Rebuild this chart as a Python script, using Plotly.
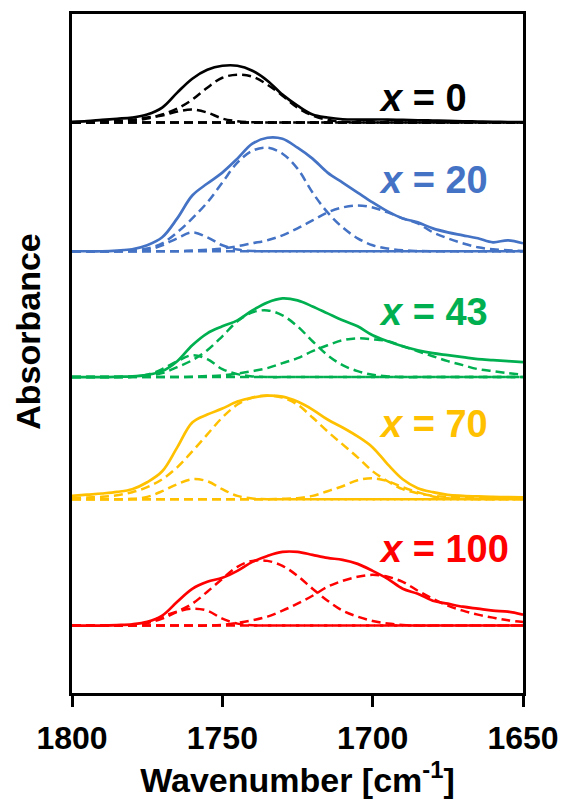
import plotly.graph_objects as go

# Wavenumber grid (cm-1)
wavenumber = [1800, 1795, 1790, 1785, 1780, 1775, 1770, 1765, 1760, 1755, 1750,
              1745, 1740, 1735, 1730, 1725, 1720, 1715, 1710, 1705, 1700,
              1695, 1690, 1685, 1680, 1675, 1670, 1665, 1660, 1655, 1650]

samples = ["0", "20", "43", "70", "100"]
colors = ["#000000", "#4472C4", "#00B050", "#FFC000", "#FF0000"]
offsets = [573, 443.7, 317.3, 194.7, 67.7]

# measured spectra (arb. units)
meas_0 = [0.7, 1.5, 2.7, 3.8, 5, 8, 15, 30, 44, 53, 57, 57, 52, 42, 28, 17, 8, 5, 3.3, 3, 3,
          3, 2.7, 2.3, 2, 1.7, 1.3, 1, 0.7, 0.5, 0.3]
meas_20 = [0, 0, 0, 0.7, 2, 6, 14, 33, 56, 68, 79, 93, 108, 114, 113, 104, 93, 79, 69, 59, 49,
           40, 33, 29, 23, 19, 16, 13, 9, 11, 8]
meas_43 = [0, 0, 0, 0.3, 0.7, 2.3, 6, 16, 32, 44, 51, 57, 67, 75, 79, 77, 71, 64, 57, 51, 42,
           36, 31, 27, 24, 22, 20, 18, 17, 16, 15]
meas_70 = [3.3, 4.5, 5.7, 7.3, 10, 17, 28, 52, 77, 85, 91, 98, 102, 104, 103, 98, 90, 80, 72, 63, 52,
           35, 20, 11, 7, 4.3, 3.3, 2.7, 2.3, 2, 1.7]
meas_100 = [0, 0, 0, 0.5, 1.3, 3.7, 10, 24, 37, 44, 48, 55, 64, 70, 74, 74, 71, 68, 66, 62, 55,
            47, 37, 32, 25, 22, 19, 17, 15, 14, 11]

# fitted component ~1735-1747 cm-1
main_0 = [0, 0, 0.3, 0.8, 1.7, 4, 8, 14, 23, 35, 45, 48, 46, 38, 27, 15, 7, 2.7, 0.7, 0, 0,
          0, 0, 0, 0, 0, 0, 0, 0, 0, 0]
main_20 = [0, 0, 0, 0, 0.7, 2.7, 8, 19, 33, 49, 69, 89, 101, 104, 98, 83, 59, 39, 24, 13, 6,
           2.7, 1, 0.3, 0, 0, 0, 0, 0, 0, 0]
main_43 = [0, 0, 0, 0, 0.3, 1.3, 4, 10, 17, 27, 41, 56, 65, 67, 62, 51, 36, 22, 12, 6, 2.3,
           0.7, 0, 0, 0, 0, 0, 0, 0, 0, 0]
main_70 = [1, 1.7, 2.3, 4, 7, 12, 20, 32, 48, 65, 82, 95, 102, 104, 102, 95, 82, 68, 55, 42, 28,
           18, 10, 6, 3.3, 2.3, 1.7, 1.3, 1, 0.8, 0.7]
main_100 = [0, 0, 0, 0, 0.7, 2.7, 7, 14, 22, 34, 47, 59, 65, 65, 60, 50, 37, 25, 15, 9, 4.7,
            2, 0.7, 0, 0, 0, 0, 0, 0, 0, 0]

# fitted component ~1759 cm-1
high_0 = [0, 0.3, 0.7, 1.5, 2.7, 5, 7, 11, 13, 10, 4, 1.3, 0.3, 0, 0, 0, 0, 0, 0, 0, 0,
          0, 0, 0, 0, 0, 0, 0, 0, 0, 0]
high_20 = [0, 0, 0, 0, 0, 1, 6, 13, 19, 14, 6, 1.7, 0.3, 0, 0, 0, 0, 0, 0, 0, 0,
           0, 0, 0, 0, 0, 0, 0, 0, 0, 0]
high_43 = [0, 0, 0, 0, 0.3, 2.3, 8, 16, 22, 18, 8, 3, 0.7, 0, 0, 0, 0, 0, 0, 0, 0,
           0, 0, 0, 0, 0, 0, 0, 0, 0, 0]
high_70 = [0, 0, 0, 0, 0.3, 2.3, 8, 15, 20, 18, 10, 3.3, 0.7, 0, 0, 0, 0, 0, 0, 0, 0,
           0, 0, 0, 0, 0, 0, 0, 0, 0, 0]
high_100 = [0, 0, 0, 0, 0.3, 2.7, 9, 14, 17, 15, 7, 2, 0.3, 0, 0, 0, 0, 0, 0, 0, 0,
            0, 0, 0, 0, 0, 0, 0, 0, 0, 0]

# fitted component ~1700-1707 cm-1
low_0 = [0] * 31
low_20 = [0, 0, 0, 0, 0, 0, 0, 0, 0.7, 1.5, 2.7, 5, 8, 11, 16, 23, 31, 39, 44, 46, 44,
          39, 33, 28, 19, 13, 8, 4, 2, 1, 0.3]
low_43 = [0, 0, 0, 0, 0, 0, 0, 0, 0.3, 1, 1.7, 3.5, 6, 9, 14, 19, 26, 32, 37, 39, 38,
          36, 31, 26, 21, 16, 12, 8, 6, 4, 2.3]
low_70 = [0, 0, 0, 0, 0, 0, 0, 0, 0, 0, 0, 0, 0, 0, 0.3, 1, 3.3, 8, 13, 19, 21,
          18, 12, 7, 2.7, 1, 0.3, 0, 0, 0, 0]
low_100 = [0, 0, 0, 0, 0, 0, 0, 0, 0, 0, 0.7, 2.7, 5.3, 9, 15, 22, 30, 39, 45, 49, 51,
           49, 44, 35, 27, 20, 15, 11, 8, 5.3, 3.7]

measured = [meas_0, meas_20, meas_43, meas_70, meas_100]
components = [
    [main_0, high_0, low_0],
    [main_20, high_20, low_20],
    [main_43, high_43, low_43],
    [main_70, high_70, low_70],
    [main_100, high_100, low_100],
]

FONT = "Liberation Sans, Arial, sans-serif"
label_y = [598, 515, 383, 270, 145]

fig = go.Figure()
for name, col, off, meas, comps in zip(samples, colors, offsets, measured, components):
    # flat baseline component (dashed)
    fig.add_trace(go.Scatter(x=wavenumber, y=[off for _ in wavenumber], mode="lines",
                             line=dict(color=col, width=2.5, dash="9px,5px"),
                             showlegend=False, hoverinfo="skip"))
    for comp in comps:
        fig.add_trace(go.Scatter(x=wavenumber, y=[off + v for v in comp], mode="lines",
                                 line=dict(color=col, width=2.5, dash="9px,5px", shape="spline", smoothing=1),
                                 showlegend=False))
    fig.add_trace(go.Scatter(x=wavenumber, y=[off + v for v in meas], mode="lines",
                             line=dict(color=col, width=2.7, shape="spline", smoothing=1),
                             name="x = " + name, showlegend=False))

for name, col, ly in zip(samples, colors, label_y):
    fig.add_annotation(x=1698.5, y=ly, xref="x", yref="y", xanchor="left", yanchor="middle",
                       text="<i>x</i> = " + name, showarrow=False,
                       font=dict(family=FONT, size=38, color=col, weight="bold"))

# y-axis title (placed slightly above the plot centre, as in the original)
fig.add_annotation(x=0, y=0.532, xref="paper", yref="paper", xshift=-44,
                   xanchor="center", yanchor="middle", textangle=-90,
                   text="Absorbance", showarrow=False,
                   font=dict(family=FONT, size=34, color="black", weight="bold"))

# The page adds an 8px body margin, so the figure is sized/placed to compensate.
fig.update_layout(
    width=559, height=795,
    margin=dict(l=64, r=44, t=3, b=110),
    plot_bgcolor="white", paper_bgcolor="white",
    font=dict(family=FONT, color="black"),
    xaxis=dict(range=[1800, 1650], tickvals=[1800, 1750, 1700, 1650],
               ticks="outside", ticklen=11, tickwidth=2.5, tickcolor="black",
               showline=True, linewidth=2.5, linecolor="black", mirror=True,
               showgrid=False, zeroline=False, ticklabelstandoff=4,
               tickfont=dict(family=FONT, size=32, color="black", weight="bold"),
               title=dict(text="Wavenumber [cm<sup>-1</sup>]", standoff=5,
                          font=dict(family=FONT, size=34, color="black", weight="bold"))),
    yaxis=dict(range=[0, 682], showticklabels=False, ticks="",
               showline=True, linewidth=2.5, linecolor="black", mirror=True,
               showgrid=False, zeroline=False),
)

fig.write_html("out.html")
